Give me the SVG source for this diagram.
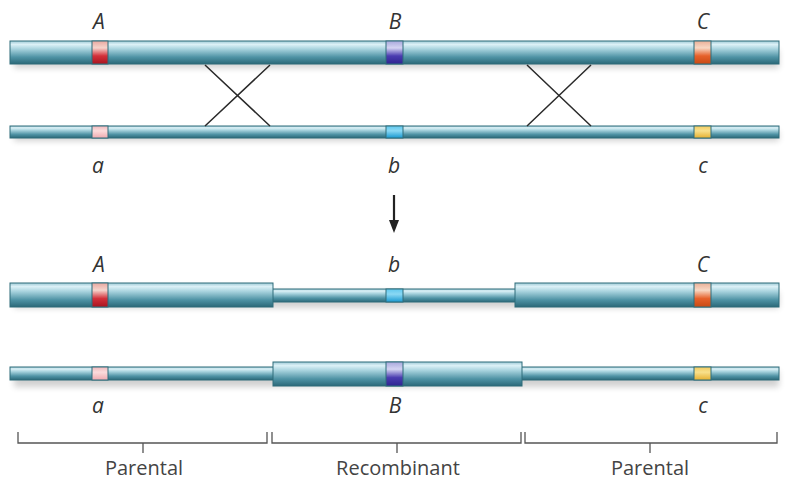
<svg xmlns="http://www.w3.org/2000/svg" width="788" height="481" viewBox="0 0 788 481">
<defs>
<linearGradient id="cyl" x1="0" y1="0" x2="0" y2="1">
<stop offset="0" stop-color="#9fcad6"/>
<stop offset="0.15" stop-color="#dcf1f7"/>
<stop offset="0.35" stop-color="#a8d3de"/>
<stop offset="0.7" stop-color="#4f93a5"/>
<stop offset="1" stop-color="#2b6878"/>
</linearGradient>
<linearGradient id="gA" x1="0" y1="0" x2="0" y2="1">
<stop offset="0" stop-color="#e8a8a0"/><stop offset="0.3" stop-color="#f6d4cc"/><stop offset="0.65" stop-color="#d2303a"/><stop offset="1" stop-color="#a8141e"/>
</linearGradient>
<linearGradient id="gB" x1="0" y1="0" x2="0" y2="1">
<stop offset="0" stop-color="#a8a8dc"/><stop offset="0.3" stop-color="#d4d4f2"/><stop offset="0.65" stop-color="#4a3cb0"/><stop offset="1" stop-color="#2e2490"/>
</linearGradient>
<linearGradient id="gC" x1="0" y1="0" x2="0" y2="1">
<stop offset="0" stop-color="#eab098"/><stop offset="0.3" stop-color="#f8d8c4"/><stop offset="0.65" stop-color="#e6602a"/><stop offset="1" stop-color="#c84a14"/>
</linearGradient>
<linearGradient id="ga" x1="0" y1="0" x2="0" y2="1">
<stop offset="0" stop-color="#f0b8bc"/><stop offset="0.4" stop-color="#fbdcdc"/><stop offset="1" stop-color="#efaab0"/>
</linearGradient>
<linearGradient id="gb" x1="0" y1="0" x2="0" y2="1">
<stop offset="0" stop-color="#60c8ee"/><stop offset="0.4" stop-color="#8ad8f4"/><stop offset="1" stop-color="#1898d0"/>
</linearGradient>
<linearGradient id="gc" x1="0" y1="0" x2="0" y2="1">
<stop offset="0" stop-color="#f2cc60"/><stop offset="0.4" stop-color="#f8e08c"/><stop offset="1" stop-color="#e6b030"/>
</linearGradient>
<filter id="sh" x="-5%" y="-100%" width="110%" height="300%">
<feGaussianBlur stdDeviation="3"/>
</filter>
</defs>
<style>
.c{fill:url(#cyl);stroke:#2f6c7a;stroke-width:1}
.sh{fill:#000;opacity:0.18;filter:url(#sh)}
.g{stroke:#2f6c7a;stroke-width:1}
.lab{font-family:"Open Sans","Liberation Sans",sans-serif;font-style:italic;font-size:21px;fill:#333;text-anchor:middle}
.cap{font-family:"Open Sans","Liberation Sans",sans-serif;font-size:20px;fill:#444;text-anchor:middle}
.br{fill:none;stroke:#555;stroke-width:1.3}
.x{stroke:#2a2a2a;stroke-width:1.5;fill:none}
</style>

<g id="top-chromosome-1">
<rect class="sh" x="14" y="50" width="765" height="18"/>
<rect class="c" x="10" y="41" width="769" height="23"/>
<rect class="g" x="92" y="41" width="16" height="23" fill="url(#gA)"/>
<rect class="g" x="386" y="41" width="17" height="23" fill="url(#gB)"/>
<rect class="g" x="694" y="41" width="17" height="23" fill="url(#gC)"/>
<text class="lab" x="99" y="29">A</text>
<text class="lab" x="395" y="29">B</text>
<text class="lab" x="703" y="29">C</text>
</g>

<g id="top-chromosome-2">
<rect class="sh" x="14" y="131" width="765" height="10"/>
<rect class="c" x="10" y="126" width="769" height="12"/>
<rect class="g" x="92" y="126" width="16" height="12" fill="url(#ga)"/>
<rect class="g" x="386" y="126" width="17" height="12" fill="url(#gb)"/>
<rect class="g" x="694" y="126" width="17" height="12" fill="url(#gc)"/>
<text class="lab" x="98" y="173">a</text>
<text class="lab" x="394" y="173">b</text>
<text class="lab" x="703" y="173">c</text>
</g>

<g id="bottom-chromosome-1">
<rect class="sh" x="14" y="292" width="765" height="16"/>
<rect class="c" x="272" y="289" width="244" height="13"/>
<rect class="c" x="10" y="283" width="263" height="24"/>
<rect class="c" x="515" y="283" width="264" height="24"/>
<rect class="g" x="92" y="283" width="16" height="24" fill="url(#gA)"/>
<rect class="g" x="386" y="289" width="17" height="13" fill="url(#gb)"/>
<rect class="g" x="694" y="283" width="17" height="24" fill="url(#gC)"/>
<text class="lab" x="99" y="272">A</text>
<text class="lab" x="394" y="272">b</text>
<text class="lab" x="703" y="272">C</text>
</g>

<g id="bottom-chromosome-2">
<rect class="sh" x="14" y="371" width="765" height="16"/>
<rect class="c" x="10" y="367" width="264" height="13"/>
<rect class="c" x="521" y="367" width="258" height="13"/>
<rect class="c" x="273" y="362" width="249" height="24"/>
<rect class="g" x="92" y="367" width="16" height="13" fill="url(#ga)"/>
<rect class="g" x="386" y="362" width="17" height="24" fill="url(#gB)"/>
<rect class="g" x="694" y="367" width="17" height="13" fill="url(#gc)"/>
<text class="lab" x="98" y="413">a</text>
<text class="lab" x="395" y="413">B</text>
<text class="lab" x="703" y="413">c</text>
</g>

<g id="connectors">
<path class="x" d="M205,65 L270,126 M270,65 L205,126"/>
<path class="x" d="M527,65 L591,126 M591,65 L527,126"/>
<line x1="394" y1="195" x2="394" y2="222" stroke="#222" stroke-width="2.2"/>
<polygon points="389,220 399,220 394,233" fill="#222"/>
</g>

<g id="brackets">
<path class="br" d="M18,432 V443 H267 V432 M143,443 V453"/>
<path class="br" d="M272,432 V443 H521 V432 M397,443 V453"/>
<path class="br" d="M525,432 V443 H777 V432 M650,443 V453"/>
<text class="cap" x="144" y="475">Parental</text>
<text class="cap" x="398" y="475">Recombinant</text>
<text class="cap" x="650" y="475">Parental</text>
</g>
</svg>
